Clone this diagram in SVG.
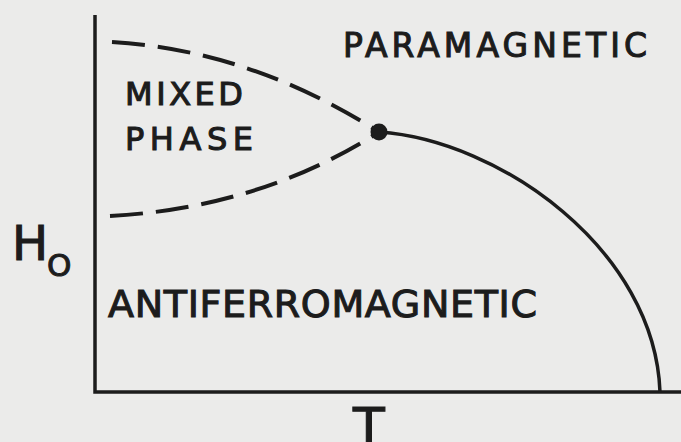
<svg xmlns="http://www.w3.org/2000/svg" width="681" height="442" viewBox="0 0 681 442">
  <style>
    .ln { fill: none; stroke: #1c1c1c; stroke-width: 3.5; stroke-linecap: butt; }
    .dash { stroke-dasharray: 33 13; stroke-width: 4; }
    .lbl { font-family: "DejaVu Sans", "Liberation Sans", sans-serif; fill: #1c1c1c; stroke: #1c1c1c; stroke-width: 1.1; }
  </style>
  <rect width="681" height="442" fill="#ebebea"/>
  <g id="axes">
    <path class="ln" d="M95,15 L95,392 L681,392"/>
  </g>
  <g id="connectors">
    <path class="ln dash" d="M112,42 Q250,50 379,132"/>
    <path class="ln dash" d="M110,216 Q260,208 379,132"/>
    <path class="ln" d="M379,132 C500,140 655,250 660,392"/>
  </g>
  <g id="critical-point">
    <circle cx="379" cy="132" r="8.5" fill="#1c1c1c"/>
  </g>
  <g id="label-paramagnetic">
    <text class="lbl" x="343" y="57" font-size="33" textLength="304" lengthAdjust="spacing">PARAMAGNETIC</text>
  </g>
  <g id="label-mixed-phase">
    <text class="lbl" x="125" y="105" font-size="32" textLength="118" lengthAdjust="spacing">MIXED</text>
    <text class="lbl" x="125" y="150" font-size="32" textLength="128" lengthAdjust="spacing">PHASE</text>
  </g>
  <g id="label-antiferromagnetic">
    <text class="lbl" x="108" y="317" font-size="38" textLength="429" lengthAdjust="spacing">ANTIFERROMAGNETIC</text>
  </g>
  <g id="axis-labels">
    <text class="lbl" x="12" y="260" font-size="48">H</text>
    <text class="lbl" x="47" y="276" font-size="31">O</text>
    <text class="lbl" x="353" y="445" font-size="52">T</text>
  </g>
</svg>
